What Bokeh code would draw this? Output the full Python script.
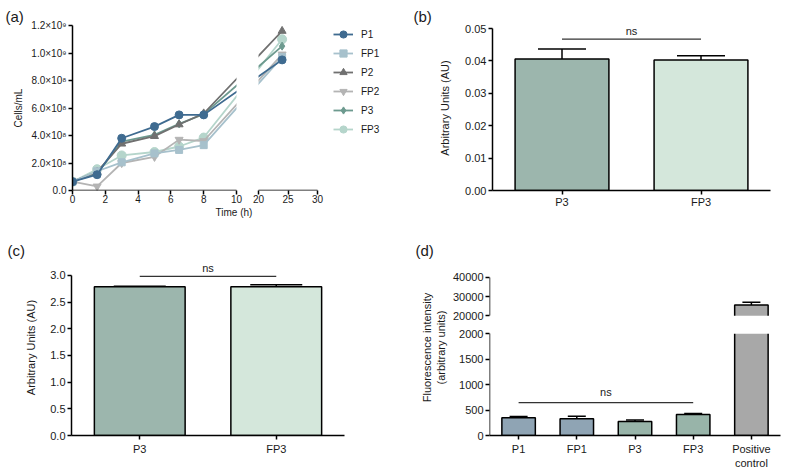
from bokeh.plotting import figure
from bokeh.layouts import row, column
from bokeh.models import (ColumnDataSource, FixedTicker, Label, Legend, LegendItem, LinearAxis,
                          Whisker, TeeHead, NumeralTickFormatter, FactorRange, Range1d)
from bokeh.embed import file_html
from bokeh.resources import INLINE

FONT = "Liberation Sans"
TXT = "#1a1a1a"

# ---------------- (a) growth curves ----------------
time_h = [0, 1.5, 3, 5, 6.5, 8, 24]
p1 = [0.64e8, 1.15e8, 3.80e8, 4.65e8, 5.50e8, 5.50e8, 9.50e8]
fp1 = [0.64e8, 1.40e8, 2.05e8, 2.70e8, 2.95e8, 3.30e8, 9.70e8]
p2 = [0.64e8, 1.35e8, 3.40e8, 3.95e8, 4.80e8, 5.60e8, 11.6e8]
fp2 = [0.64e8, 0.30e8, 2.00e8, 2.45e8, 3.70e8, 3.60e8, 9.90e8]
p3 = [0.64e8, 1.25e8, 3.55e8, 4.05e8, 4.85e8, 5.55e8, 10.5e8]
fp3 = [0.64e8, 1.55e8, 2.55e8, 2.80e8, 3.20e8, 3.85e8, 11.0e8]
series_names = ["P1", "FP1", "P2", "FP2", "P3", "FP3"]
series_values = [p1, fp1, p2, fp2, p3, fp3]
series_colors = ["#3f6b90", "#a7c1cc", "#707070", "#b4b4b4", "#6d9a8f", "#b5d5cb"]
series_markers = ["circle", "square", "triangle", "inverted_triangle", "diamond", "circle"]
series_sizes = [8, 7, 8, 8, 8, 9]
a_xticks_left = [0, 2, 4, 6, 8, 10]
a_xticks_right = [20, 25, 30]
a_yticks = [0, 200000000, 400000000, 600000000, 800000000, 1000000000, 1200000000]
a_ylabels = ["0.0", "2.0×10⁸", "4.0×10⁸", "6.0×10⁸", "8.0×10⁸", "1.0×10⁹", "1.2×10⁹"]

# ---------------- (b) ----------------
b_cats = ["P3", "FP3"]
b_means = [0.0406, 0.0403]
b_sd = [0.0031, 0.0013]
b_colors = ["#9cb6ad", "#d4e7db"]
b_yticks = [0, 0.01, 0.02, 0.03, 0.04, 0.05]
b_ns_y = 0.0467
b_ns_text_y = 0.0493

# ---------------- (c) ----------------
c_cats = ["P3", "FP3"]
c_means = [2.785, 2.785]
c_sd = [0.01, 0.04]
c_colors = ["#9cb6ad", "#d4e7db"]
c_yticks = [0, 0.5, 1.0, 1.5, 2.0, 2.5, 3.0]
c_ns_y = 2.98
c_ns_text_y = 3.14

# ---------------- (d) ----------------
d_cats = ["P1", "FP1", "P3", "FP3", "Positive\ncontrol"]
d_means = [348, 329, 277, 412, 25600]
d_sd = [25, 50, 25, 20, 1400]
d_colors = ["#8fa4b4", "#8fa4b4", "#98b4a9", "#98b4a9", "#a8a8a8"]
d_yticks_low = [0, 500, 1000, 1500, 2000]
d_yticks_high = [20000, 30000, 40000]
d_ns_y = 645
d_ns_text_y = 855


def style_axis(ax, size="11px", stand=3):
    ax.axis_line_color = "black"
    ax.axis_line_width = 1.5
    ax.major_tick_line_color = "black"
    ax.major_tick_line_width = 1.5
    ax.major_tick_out = 4
    ax.major_tick_in = 0
    ax.minor_tick_out = 0
    ax.minor_tick_in = 0
    ax.major_label_text_font = FONT
    ax.major_label_text_font_size = size
    ax.major_label_text_color = TXT
    ax.major_label_standoff = stand
    ax.axis_label_text_font = FONT
    ax.axis_label_text_font_style = "normal"
    ax.axis_label_text_color = TXT


def line_only_axis(loc, bounds):
    ax = LinearAxis(fixed_location=loc, bounds=bounds, ticker=FixedTicker(ticks=[]))
    ax.axis_line_color = "black"
    ax.axis_line_width = 1.5
    ax.major_tick_out = 0
    ax.major_tick_in = 0
    ax.minor_tick_out = 0
    ax.minor_tick_in = 0
    return ax


def base_fig(width, height, mbl, mbr, mbt, mbb, x_range, y_range):
    p = figure(width=width, height=height, x_range=x_range, y_range=y_range,
               output_backend="svg", toolbar_location=None,
               min_border_left=mbl, min_border_right=mbr,
               min_border_top=mbt, min_border_bottom=mbb)
    p.outline_line_color = None
    p.xgrid.grid_line_color = None
    p.ygrid.grid_line_color = None
    p.background_fill_color = "white"
    p.border_fill_color = "white"
    return p


def panel_title(p, text, offset):
    p.title.text = text
    p.title.align = "left"
    p.title.offset = offset
    p.title.standoff = 2
    p.title.text_font = FONT
    p.title.text_font_size = "15px"
    p.title.text_font_style = "normal"
    p.title.text_color = TXT


def add_label(p, text, x, y, size):
    p.add_layout(Label(x=x, y=y, text=text, text_align="center", text_baseline="middle",
                       text_font=FONT, text_font_size=size, text_color=TXT))


# layout constants (pixels)
TOP_H, BOT_H = 230, 241
TOP_MBT, TOP_MBB = 25, 40
BOT_MBT, BOT_MBB = 29, 34
TOP_FRAME = TOP_H - TOP_MBT - TOP_MBB      # 165
BOT_FRAME = BOT_H - BOT_MBT - BOT_MBB      # 178

# ---------- panel (a): broken x axis on one display scale ----------
A_LEFT_PX, A_RIGHT_PX, A_GAP_PX, A_FRAME_PX = 164, 59, 22, 323
a_ppu = A_LEFT_PX / 10.0
BREAK_LO, BREAK_HI = 10, 20


def disp(t):
    if t <= BREAK_LO:
        return t
    return BREAK_LO + A_GAP_PX / a_ppu + (t - BREAK_HI) * (A_RIGHT_PX / 10.0) / a_ppu


disp_x = [disp(t) for t in time_h]
pa = base_fig(400, TOP_H, 72, 5, TOP_MBT, TOP_MBB, Range1d(0, A_FRAME_PX / a_ppu),
              Range1d(0, a_yticks[-1]))
for ax in pa.axis:
    style_axis(ax, "10px", 2)
xt = a_xticks_left + [disp(t) for t in a_xticks_right]
pa.xaxis.ticker = FixedTicker(ticks=xt)
pa.xaxis.major_label_overrides = dict(zip(xt, [str(t) for t in a_xticks_left + a_xticks_right]))
pa.xaxis.axis_line_color = None
pa.xaxis.bounds = (0, disp(a_xticks_right[-1]))
pa.xaxis.major_label_standoff = 0
pa.xaxis.axis_label = "Time (h)"
pa.xaxis.axis_label_text_font_size = "10px"
pa.xaxis.axis_label_standoff = 1
pa.yaxis.ticker = FixedTicker(ticks=a_yticks)
pa.yaxis.major_label_overrides = dict(zip(a_yticks, a_ylabels))
pa.yaxis.axis_label = "Cells/mL"
pa.yaxis.axis_label_text_font_size = "10px"
pa.yaxis.axis_label_standoff = 4
pa.add_layout(line_only_axis(0, (0, BREAK_LO)), "below")
pa.add_layout(line_only_axis(0, (disp(BREAK_HI), disp(a_xticks_right[-1]))), "below")

legend_items = {}
for i in [5, 4, 3, 2, 1, 0]:
    src = ColumnDataSource(dict(x=disp_x, y=series_values[i]))
    lr = pa.line("x", "y", source=src, line_color=series_colors[i], line_width=1.8)
    sr = pa.scatter("x", "y", source=src, marker=series_markers[i], size=series_sizes[i],
                    fill_color=series_colors[i], line_color=series_colors[i])
    legend_items[i] = LegendItem(label=series_names[i], renderers=[lr, sr])
# white band hiding the lines inside the axis break
pa.quad(left=[disp(BREAK_LO)], right=[disp(BREAK_HI)], bottom=[0], top=[a_yticks[-1]],
        fill_color="white", line_color=None)
legend = Legend(items=[legend_items[i] for i in range(6)], location=(261, 52),
                padding=0, margin=0, spacing=1, glyph_width=20, glyph_height=18,
                label_height=18, label_standoff=8, label_text_font=FONT,
                label_text_font_size="10px", label_text_color=TXT,
                border_line_color=None, background_fill_alpha=0)
pa.add_layout(legend)
panel_title(pa, "(a)", -67)


# ---------- bar panels ----------
def bar_panel(p, cats, tops, uppers, colors, width, cap, mask=None):
    src = ColumnDataSource(dict(cat=cats, top=tops, upper=uppers, color=colors))
    p.vbar(x="cat", top="top", width=width, source=src, fill_color="color",
           line_color="black", line_width=1.5)
    if mask is not None:
        p.quad(left=[0], right=[len(cats)], bottom=[mask[0]], top=[mask[1]],
               fill_color="white", line_color=None)
    p.add_layout(Whisker(source=src, base="cat", lower="top", upper="upper",
                         line_color="black", line_width=1.5, lower_head=None,
                         upper_head=TeeHead(size=cap, line_color="black", line_width=1.5)))


def ns_mark(p, c0, c1, y, ty, xmid):
    p.segment(x0=[c0], x1=[c1], y0=[y], y1=[y], line_color="#333333", line_width=1.2)
    add_label(p, "ns", xmid, ty, "11px")


# (b): axis top (0.05) sits 3 px below the frame top
B_AXIS_PX = 162
pb = base_fig(400, TOP_H, 92, 30, TOP_MBT, TOP_MBB, FactorRange(*b_cats),
              Range1d(0, b_yticks[-1] * TOP_FRAME / B_AXIS_PX))
for ax in pb.axis:
    style_axis(ax, "11px", 2)
pb.xaxis.major_label_standoff = 1
pb.yaxis.ticker = FixedTicker(ticks=b_yticks)
pb.yaxis.formatter = NumeralTickFormatter(format="0.00")
pb.yaxis.bounds = (0, b_yticks[-1])
pb.yaxis.axis_label = "Arbitrary Units (AU)"
pb.yaxis.axis_label_text_font_size = "11px"
pb.yaxis.axis_label_standoff = 11
bar_panel(pb, b_cats, b_means, [m + s for m, s in zip(b_means, b_sd)], b_colors, 0.675, 48)
ns_mark(pb, b_cats[0], b_cats[-1], b_ns_y, b_ns_text_y, 1.0)
panel_title(pb, "(b)", -79)

# (c)
C_AXIS_PX = 162
pc = base_fig(400, BOT_H, 71, 56, BOT_MBT, BOT_MBB, FactorRange(*c_cats),
              Range1d(0, c_yticks[-1] * BOT_FRAME / C_AXIS_PX))
for ax in pc.axis:
    style_axis(ax, "11px", 2)
pc.xaxis.major_label_standoff = 3
pc.yaxis.ticker = FixedTicker(ticks=c_yticks)
pc.yaxis.formatter = NumeralTickFormatter(format="0.0")
pc.yaxis.bounds = (0, c_yticks[-1])
pc.yaxis.axis_label = "Arbitrary Units (AU)"
pc.yaxis.axis_label_text_font_size = "11px"
pc.yaxis.axis_label_standoff = 10
bar_panel(pc, c_cats, c_means, [m + s for m, s in zip(c_means, c_sd)], c_colors, 0.665, 52)
ns_mark(pc, c_cats[0], c_cats[-1], c_ns_y, c_ns_text_y, 1.0)
panel_title(pc, "(c)", -64)

# (d): broken y axis on one display scale
D_LOW_PX, D_GAP_PX, D_HIGH_PX = 103, 18, 39
d_ppu = D_LOW_PX / float(d_yticks_low[-1])
LOW_MAX, HIGH_MIN, HIGH_MAX = d_yticks_low[-1], d_yticks_high[0], d_yticks_high[-1]


def ydisp(v):
    if v <= LOW_MAX:
        return v
    return LOW_MAX + D_GAP_PX / d_ppu + (v - HIGH_MIN) * (D_HIGH_PX / float(HIGH_MAX - HIGH_MIN)) / d_ppu


pd = base_fig(400, BOT_H, 89, 20, BOT_MBT, BOT_MBB, FactorRange(*d_cats),
              Range1d(0, BOT_FRAME / d_ppu))
for ax in pd.axis:
    style_axis(ax, "11px", 2)
pd.xaxis.major_label_standoff = 3
yt = [ydisp(v) for v in d_yticks_low + d_yticks_high]
pd.yaxis.ticker = FixedTicker(ticks=yt)
pd.yaxis.major_label_overrides = dict(zip(yt, [str(v) for v in d_yticks_low + d_yticks_high]))
pd.yaxis.axis_line_color = None
pd.yaxis.bounds = (0, ydisp(HIGH_MAX))
pd.yaxis.axis_label = "Fluorescence intensity\n(arbitrary units)"
pd.yaxis.axis_label_text_font_size = "11px"
pd.yaxis.axis_label_standoff = 3
pd.add_layout(line_only_axis(0, (0, LOW_MAX)), "left")
pd.add_layout(line_only_axis(0, (ydisp(HIGH_MIN), ydisp(HIGH_MAX))), "left")

bar_panel(pd, d_cats, [ydisp(m) for m in d_means], [ydisp(m + s) for m, s in zip(d_means, d_sd)],
          d_colors, 0.575, 18, mask=(LOW_MAX, ydisp(HIGH_MIN)))
ns_mark(pd, d_cats[0], d_cats[3], d_ns_y, d_ns_text_y, 2.0)
panel_title(pd, "(d)", -74)

layout = column(row(pa, pb), row(pc, pd))

with open("out.html", "w") as f:
    f.write(file_html(layout, INLINE))
